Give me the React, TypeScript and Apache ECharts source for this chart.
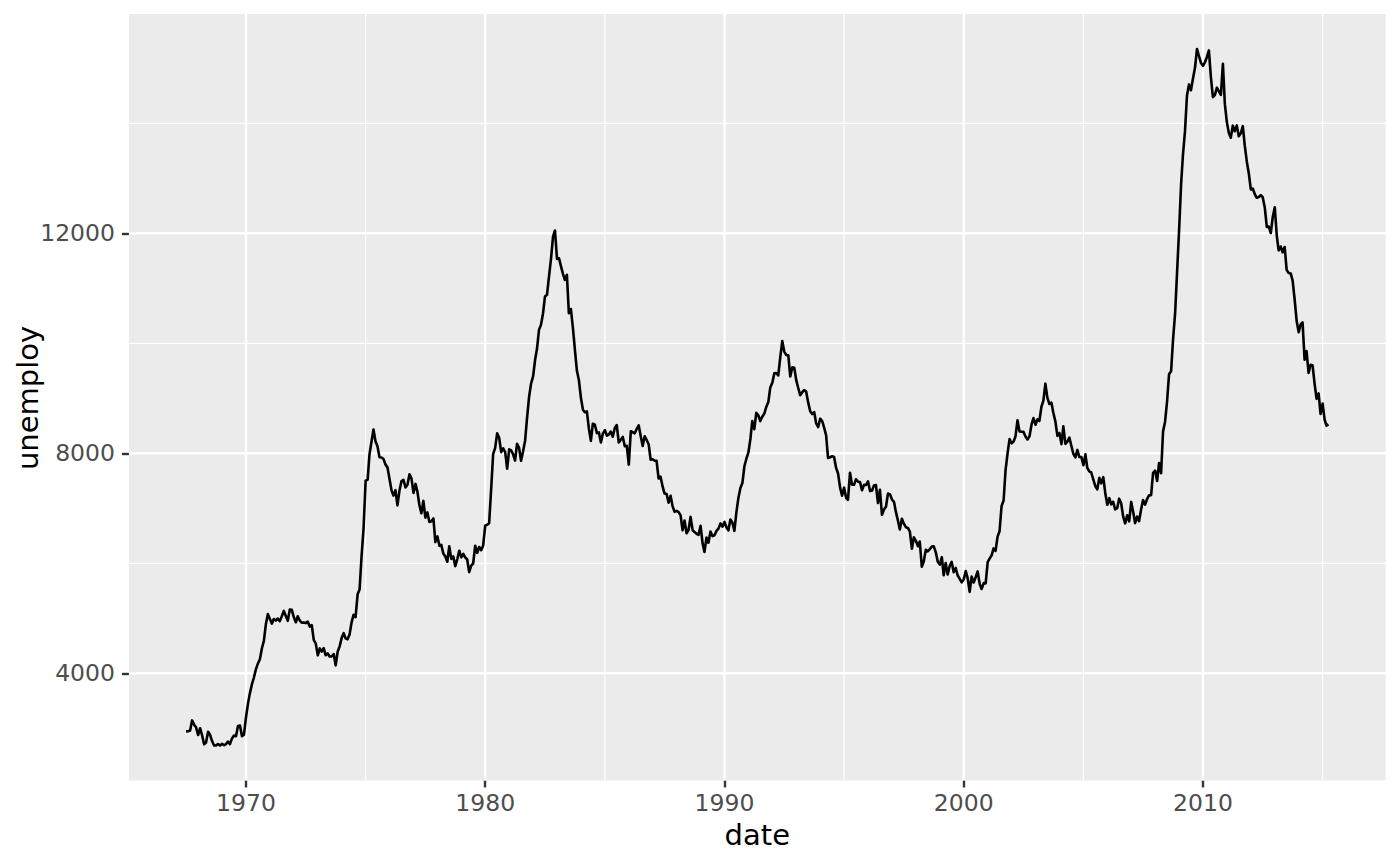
import React, { useEffect, useRef } from "react";
import * as echarts from "echarts";

// Monthly series starts July 1967
const startYear = 1967;
const startMonth = 7;

// unemploy (thousands), Jul 1967 – Dec 1969
const u1960s = [
  2944, 2945, 2958, 3143, 3066, 3018,
  2878, 3001, 2877, 2709, 2740, 2938, 2883, 2768, 2686, 2689, 2715, 2685,
  2718, 2692, 2712, 2758, 2713, 2816, 2868, 2856, 3040, 3049, 2856, 2884,
];

const u1970s = [
  3201, 3453, 3635, 3797, 3919, 4071, 4175, 4256, 4456, 4591, 4898, 5076,
  4986, 4903, 4987, 4959, 4996, 4949, 5035, 5134, 5042, 4954, 5161, 5154,
  5019, 4928, 5038, 4959, 4922, 4923, 4913, 4939, 4849, 4875, 4602, 4543,
  4326, 4452, 4394, 4459, 4329, 4363, 4305, 4305, 4350, 4144, 4396, 4489,
  4644, 4731, 4634, 4618, 4705, 4927, 5063, 5022, 5437, 5523, 6140, 6636,
  7501, 7520, 7978, 8210, 8433, 8220, 8127, 7928, 7923, 7897, 7794, 7744,
  7534, 7326, 7230, 7330, 7053, 7322, 7490, 7518, 7380, 7430, 7620, 7545,
  7280, 7443, 7307, 7059, 6911, 7134, 6829, 6925, 6751, 6763, 6815, 6386,
  6489, 6318, 6337, 6180, 6127, 6028, 6309, 6080, 6125, 5947, 6077, 6228,
  6109, 6173, 6109, 6069, 5840, 5959, 5996, 6320, 6190, 6296, 6238, 6325,
];

const u1980s = [
  6683, 6702, 6729, 7358, 7984, 8098, 8363, 8281, 8021, 8088, 8023, 7718,
  8071, 8051, 7982, 7869, 8174, 8098, 7863, 8036, 8230, 8646, 9029, 9267,
  9397, 9705, 9895, 10244, 10335, 10538, 10849, 10881, 11217, 11529, 11938, 12051,
  11534, 11545, 11408, 11268, 11154, 11246, 10548, 10623, 10282, 9887, 9499, 9331,
  9008, 8791, 8746, 8762, 8456, 8226, 8537, 8519, 8367, 8381, 8198, 8358,
  8423, 8321, 8339, 8395, 8302, 8460, 8513, 8196, 8248, 8298, 8128, 8138,
  7795, 8402, 8383, 8364, 8439, 8508, 8319, 8135, 8310, 8243, 8159, 7883,
  7892, 7865, 7862, 7542, 7574, 7398, 7268, 7261, 7102, 7227, 7035, 6936,
  6953, 6929, 6876, 6601, 6779, 6546, 6605, 6843, 6604, 6568, 6537, 6518,
  6682, 6359, 6205, 6468, 6375, 6577, 6495, 6511, 6590, 6630, 6725, 6667,
];

const u1990s = [
  6752, 6651, 6598, 6797, 6742, 6590, 6922, 7188, 7368, 7459, 7764, 7901,
  8015, 8265, 8586, 8439, 8736, 8692, 8586, 8666, 8722, 8842, 8931, 9198,
  9283, 9454, 9460, 9415, 9744, 10040, 9850, 9787, 9781, 9398, 9565, 9557,
  9325, 9183, 9056, 9110, 9149, 9121, 8930, 8763, 8714, 8750, 8542, 8477,
  8630, 8583, 8470, 8331, 7915, 7927, 7946, 7933, 7734, 7632, 7375, 7230,
  7375, 7187, 7153, 7645, 7430, 7427, 7527, 7484, 7478, 7328, 7426, 7423,
  7491, 7313, 7318, 7415, 7423, 7095, 7337, 6882, 6979, 7028, 7269, 7254,
  7161, 7114, 6939, 6780, 6614, 6809, 6720, 6656, 6643, 6575, 6265, 6473,
  6409, 6311, 6396, 5937, 6031, 6245, 6217, 6256, 6305, 6309, 6199, 6029,
  5976, 6111, 5783, 6004, 5796, 5951, 6025, 5838, 5915, 5778, 5716, 5653,
];

const u2000s = [
  5708, 5858, 5733, 5481, 5758, 5651, 5747, 5853, 5625, 5534, 5639, 5634,
  6023, 6089, 6141, 6271, 6226, 6484, 6583, 7042, 7142, 7694, 8003, 8258,
  8182, 8215, 8304, 8599, 8399, 8393, 8390, 8304, 8251, 8307, 8520, 8640,
  8520, 8618, 8588, 8842, 8957, 9266, 9011, 8896, 8921, 8732, 8576, 8317,
  8370, 8167, 8491, 8170, 8212, 8286, 8136, 7990, 7927, 8061, 7932, 7934,
  7784, 7980, 7737, 7672, 7651, 7524, 7406, 7345, 7553, 7453, 7566, 7279,
  7064, 7184, 7072, 7120, 6980, 7001, 7175, 7091, 6847, 6727, 6872, 6762,
  7116, 6927, 6731, 6850, 6766, 6979, 7149, 7067, 7170, 7237, 7240, 7645,
  7685, 7497, 7822, 7637, 8395, 8575, 8937, 9438, 9494, 10074, 10538, 11286,
  12058, 12898, 13426, 13853, 14499, 14707, 14601, 14814, 15009, 15352, 15219, 15098,
];

// Jan 2010 – Apr 2015
const u2010s = [
  15046, 15113, 15202, 15325, 14849, 14474, 14512, 14648, 14579, 14516, 15081, 14348,
  14013, 13820, 13737, 13957, 13855, 13962, 13763, 13818, 13948, 13594, 13302, 13093,
  12797, 12813, 12713, 12646, 12660, 12692, 12656, 12471, 12115, 12124, 12005, 12298,
  12471, 11950, 11689, 11760, 11654, 11751, 11335, 11279, 11270, 11136, 10787, 10404,
  10202, 10349, 10380, 9702, 9859, 9460, 9608, 9599, 9262, 8990, 9090, 8717,
  8903, 8610, 8504, 8526,
];

const xMajorYears = [1970, 1980, 1990, 2000, 2010];
const xMinorYears = [1975, 1985, 1995, 2005, 2015];
const yMajorTicks = [4000, 8000, 12000];
const yMinorTicks = [6000, 10000, 14000];

const FONT = "DejaVu Sans";

export default function App() {
  const ref = useRef<HTMLDivElement>(null);

  useEffect(() => {
    if (!ref.current) return;
    const chart = echarts.init(ref.current, null, { renderer: "svg" });

    const values = [...u1960s, ...u1970s, ...u1980s, ...u1990s, ...u2000s, ...u2010s];
    const data = values.map((v, i) => {
      const m = startMonth - 1 + i;
      return [Date.UTC(startYear + Math.floor(m / 12), m % 12, 1), v];
    });
    const t0 = data[0][0] as number;
    const t1 = data[data.length - 1][0] as number;
    const xPad = (t1 - t0) * 0.05;
    const xMin = t0 - xPad;
    const xMax = t1 + xPad;
    const vMin = Math.min(...values);
    const vMax = Math.max(...values);
    const yPad = (vMax - vMin) * 0.05;
    const yMin = vMin - yPad;
    const yMax = vMax + yPad;
    const yearMs = (y: number) => Date.UTC(y, 0, 1);

    const gridLine = (pts: number[][], width: number) => ({
      type: "line",
      data: pts,
      symbol: "none",
      silent: true,
      z: 1,
      lineStyle: { color: "#FFFFFF", width, cap: "butt" },
      tooltip: { show: false },
    });

    const gridSeries: any[] = [];
    yMinorTicks.forEach((v) => gridSeries.push(gridLine([[xMin, v], [xMax, v]], 1.2)));
    xMinorYears.forEach((y) => gridSeries.push(gridLine([[yearMs(y), yMin], [yearMs(y), yMax]], 1.2)));
    yMajorTicks.forEach((v) => gridSeries.push(gridLine([[xMin, v], [xMax, v]], 2.4)));
    xMajorYears.forEach((y) => gridSeries.push(gridLine([[yearMs(y), yMin], [yearMs(y), yMax]], 2.4)));

    chart.setOption({
      animation: false,
      grid: {
        left: 128.94,
        right: 14.38,
        top: 14.1,
        bottom: 85.54,
        show: true,
        backgroundColor: "#EBEBEB",
        borderWidth: 0,
        containLabel: false,
      },
      xAxis: {
        type: "value",
        min: xMin,
        max: xMax,
        axisLine: { show: false, onZero: false },
        splitLine: { show: false },
        axisTick: {
          show: true,
          customValues: xMajorYears.map(yearMs),
          length: 7,
          lineStyle: { color: "#333333", width: 2.4 },
        },
        axisLabel: {
          customValues: xMajorYears.map(yearMs),
          formatter: (v: number) => String(new Date(v).getUTCFullYear()),
          color: "#4D4D4D",
          fontSize: 23.5,
          fontFamily: FONT,
          margin: 11,
        },
      },
      yAxis: {
        type: "value",
        min: yMin,
        max: yMax,
        axisLine: { show: false, onZero: false },
        splitLine: { show: false },
        axisTick: {
          show: true,
          customValues: yMajorTicks,
          length: 7,
          lineStyle: { color: "#333333", width: 2.4 },
        },
        axisLabel: {
          customValues: yMajorTicks,
          formatter: (v: number) => String(v),
          color: "#4D4D4D",
          fontSize: 23.5,
          fontFamily: FONT,
          margin: 14,
        },
      },
      series: [
        ...gridSeries,
        {
          name: "unemploy",
          type: "line",
          data,
          showSymbol: false,
          symbol: "none",
          z: 3,
          lineStyle: { color: "#000000", width: 2.6, join: "round", cap: "butt" },
        },
      ],
      graphic: [
        {
          type: "text",
          x: 757.3,
          y: 835,
          style: {
            text: "date",
            fontSize: 29,
            fontFamily: FONT,
            fill: "#000000",
            textAlign: "center",
            textVerticalAlign: "middle",
          },
        },
        {
          type: "text",
          x: 28,
          y: 398,
          rotation: Math.PI / 2,
          style: {
            text: "unemploy",
            fontSize: 29,
            fontFamily: FONT,
            fill: "#000000",
            textAlign: "center",
            textVerticalAlign: "middle",
          },
        },
      ],
    });

    return () => chart.dispose();
  }, []);

  return (
    <div
      ref={ref}
      style={{ position: "fixed", left: 0, top: 0, width: 1400, height: 866, background: "#FFFFFF" }}
    />
  );
}
